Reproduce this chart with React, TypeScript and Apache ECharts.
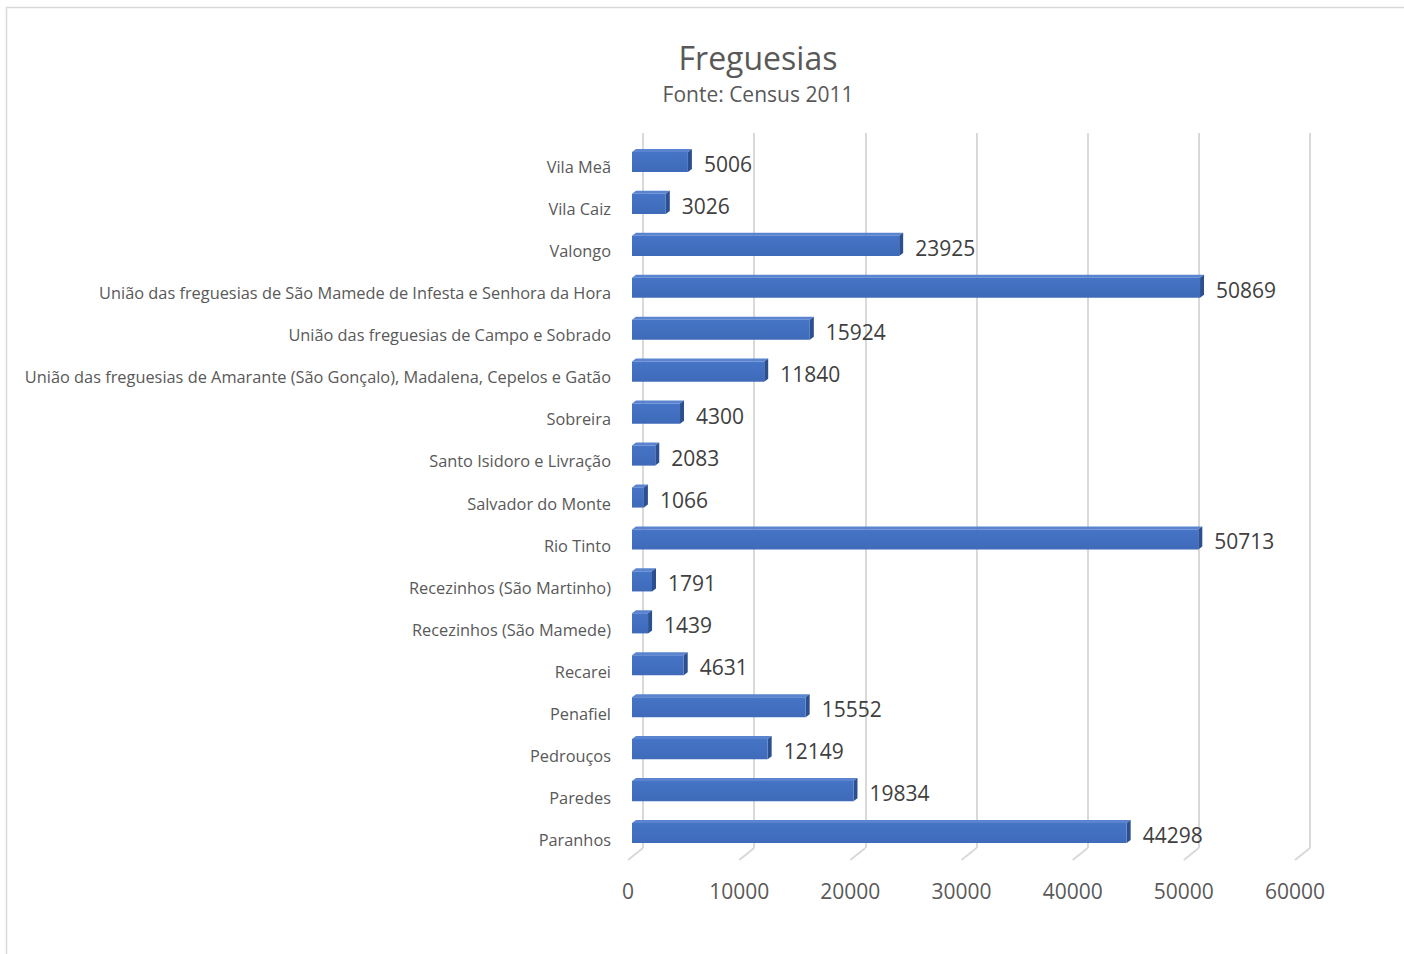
import React, { useEffect, useRef } from "react";
import * as echarts from "echarts";

const categories: string[] = [
  "Vila Meã",
  "Vila Caiz",
  "Valongo",
  "União das freguesias de São Mamede de Infesta e Senhora da Hora",
  "União das freguesias de Campo e Sobrado",
  "União das freguesias de Amarante (São Gonçalo), Madalena, Cepelos e Gatão",
  "Sobreira",
  "Santo Isidoro e Livração",
  "Salvador do Monte",
  "Rio Tinto",
  "Recezinhos (São Martinho)",
  "Recezinhos (São Mamede)",
  "Recarei",
  "Penafiel",
  "Pedrouços",
  "Paredes",
  "Paranhos",
];

const populacao: number[] = [
  5006, 3026, 23925, 50869, 15924, 11840, 4300, 2083, 1066, 50713, 1791, 1439,
  4631, 15552, 12149, 19834, 44298,
];

const tickValues: number[] = [0, 10000, 20000, 30000, 40000, 50000, 60000];

const titleText = "Freguesias";
const subtitleText = "Fonte: Census 2011";

const FONT = "'Open Sans', 'Noto Sans', sans-serif";

export default function App() {
  const ref = useRef<HTMLDivElement>(null);

  useEffect(() => {
    if (!ref.current) return;
    const chart = echarts.init(ref.current, null, { renderer: "svg" });

    const option: any = {
      animation: false,
      backgroundColor: "#ffffff",
      textStyle: { fontFamily: FONT },
      graphic: [
        {
          type: "rect",
          silent: true,
          z: -10,
          shape: { x: 6.5, y: 7.5, width: 1410, height: 960 },
          style: { fill: "none", stroke: "#d9d9d9", lineWidth: 1.5 },
        },
        {
          type: "text",
          silent: true,
          style: {
            text: titleText,
            x: 758,
            y: 57,
            fill: "#595959",
            font: `32px ${FONT}`,
            textAlign: "center",
            textVerticalAlign: "middle",
            align: "center",
            verticalAlign: "middle",
          },
        },
        {
          type: "text",
          silent: true,
          style: {
            text: subtitleText,
            x: 758,
            y: 94,
            fill: "#595959",
            font: `21px ${FONT}`,
            textAlign: "center",
            textVerticalAlign: "middle",
            align: "center",
            verticalAlign: "middle",
          },
        },
      ],
      grid: [
        { left: 643, right: 94, top: 133, bottom: 106 },
        { left: 628, right: 109, top: 146, bottom: 93 },
        { left: 632, right: 102, top: 141, bottom: 100 },
      ],
      xAxis: [
        {
          gridIndex: 0,
          type: "value",
          min: 0,
          max: 60000,
          interval: 10000,
          axisLine: { show: false },
          axisTick: { show: false },
          axisLabel: { show: false },
          splitLine: { show: true, lineStyle: { color: "#d9d9d9", width: 2 } },
        },
        {
          gridIndex: 1,
          type: "value",
          min: 0,
          max: 60000,
          interval: 10000,
          axisLine: { show: false },
          axisTick: { show: false },
          splitLine: { show: false },
          axisLabel: {
            show: true,
            color: "#595959",
            fontSize: 21,
            fontFamily: FONT,
            margin: 19,
            formatter: (v: number) => String(v),
          },
        },
        {
          gridIndex: 2,
          type: "value",
          min: 0,
          max: 60000,
          interval: 10000,
          show: false,
        },
      ],
      yAxis: [
        {
          gridIndex: 0,
          type: "category",
          data: categories,
          inverse: true,
          show: false,
        },
        {
          gridIndex: 1,
          type: "category",
          data: categories,
          inverse: true,
          axisLine: { show: false },
          axisTick: { show: false },
          splitLine: { show: false },
          axisLabel: {
            color: "#595959",
            fontSize: 16.35,
            fontFamily: FONT,
            margin: 17,
          },
        },
        {
          gridIndex: 2,
          type: "category",
          data: categories,
          inverse: true,
          show: false,
        },
      ],
      series: [
        {
          type: "custom",
          xAxisIndex: 0,
          yAxisIndex: 0,
          silent: true,
          data: tickValues.map((v) => [v, 0]),
          encode: { x: 0, y: 1 },
          renderItem: (params: any, api: any) => {
            const p = api.coord([api.value(0), 0]);
            const bottom = params.coordSys.y + params.coordSys.height;
            return {
              type: "line",
              shape: { x1: p[0], y1: bottom, x2: p[0] - 15, y2: bottom + 12 },
              style: { stroke: "#d9d9d9", lineWidth: 2 },
            };
          },
        },
        {
          type: "custom",
          xAxisIndex: 2,
          yAxisIndex: 2,
          data: populacao.map((v, i) => [v, i]),
          encode: { x: 0, y: 1 },
          renderItem: (params: any, api: any) => {
            const v = api.value(0);
            const i = api.value(1);
            const s = api.coord([0, i]);
            const e = api.coord([v, i]);
            const band = api.size([0, 1])[1];
            const h = band * 0.48;
            const y0 = s[1] - h / 2;
            const dx = 4;
            const dy = 3;
            return {
              type: "group",
              children: [
                {
                  type: "polygon",
                  shape: {
                    points: [
                      [s[0], y0],
                      [e[0], y0],
                      [e[0] + dx, y0 - dy],
                      [s[0] + dx, y0 - dy],
                    ],
                  },
                  style: { fill: "#5a84cf" },
                },
                {
                  type: "polygon",
                  shape: {
                    points: [
                      [e[0], y0],
                      [e[0] + dx, y0 - dy],
                      [e[0] + dx, y0 + h - dy],
                      [e[0], y0 + h],
                    ],
                  },
                  style: { fill: "#2c4f8f" },
                },
                {
                  type: "rect",
                  shape: { x: s[0], y: y0, width: e[0] - s[0], height: h },
                  style: {
                    fill: new echarts.graphic.LinearGradient(0, 0, 0, 1, [
                      { offset: 0, color: "#4674c6" },
                      { offset: 1, color: "#3e6ab9" },
                    ]),
                  },
                },
                {
                  type: "text",
                  style: {
                    text: String(v),
                    x: e[0] + dx + 12,
                    y: s[1] + 2,
                    fill: "#404040",
                    font: `21px ${FONT}`,
                    textAlign: "left",
                    textVerticalAlign: "middle",
                    align: "left",
                    verticalAlign: "middle",
                  },
                },
              ],
            };
          },
        },
      ],
    };

    chart.setOption(option);
    return () => chart.dispose();
  }, []);

  return (
    <div
      ref={ref}
      style={{ position: "absolute", left: 0, top: 0, width: 1404, height: 954 }}
    />
  );
}
